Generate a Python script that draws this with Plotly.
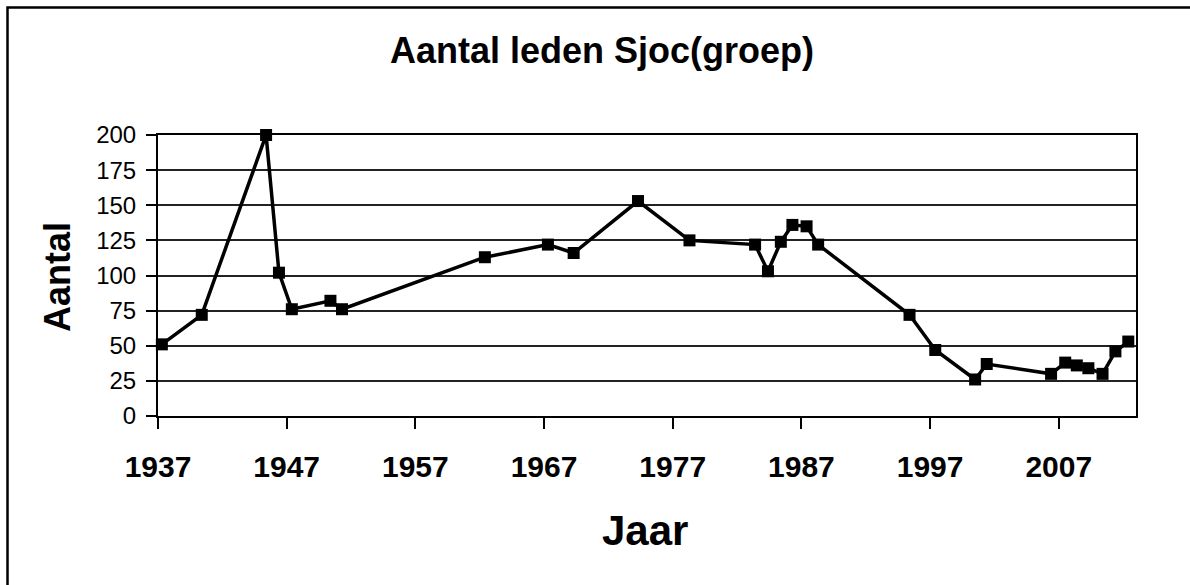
import plotly.graph_objects as go

# Data (x = year position, y = number of members)
jaar = [1937.3, 1940.4, 1945.4, 1946.4, 1947.4, 1950.4, 1951.3, 1962.4, 1967.3,
        1969.3, 1974.3, 1978.3, 1983.4, 1984.4, 1985.4, 1986.3, 1987.4, 1988.3,
        1995.4, 1997.4, 2000.5, 2001.4, 2006.4, 2007.5, 2008.4, 2009.3, 2010.4,
        2011.4, 2012.4]
aantal = [51, 72, 200, 102, 76, 82, 76, 113, 122,
          116, 153, 125, 122, 103, 124, 136, 135, 122,
          72, 47, 26, 37, 30, 38, 36, 34, 30,
          46, 53]
x_ticks = [1937, 1947, 1957, 1967, 1977, 1987, 1997, 2007]
y_ticks = [0, 25, 50, 75, 100, 125, 150, 175, 200]

W, H = 1190, 585
L, R, T, B = 158, 1136, 135, 416
pw, ph = R - L, B - T

def px(x):
    return (x - L) / pw

def py(y):
    return (B - y) / ph

FONT = "Arial, Liberation Sans, sans-serif"

fig = go.Figure()
fig.add_trace(go.Scatter(
    x=jaar, y=aantal, mode="lines+markers",
    line=dict(color="black", width=3.5),
    marker=dict(symbol="square", size=12, color="black"),
    cliponaxis=False, showlegend=False,
))

fig.update_layout(
    width=W, height=H,
    margin=dict(l=L, r=W - R, t=T, b=H - B),
    paper_bgcolor="white", plot_bgcolor="white",
    font=dict(family=FONT, color="black"),
    showlegend=False,
)
fig.update_xaxes(
    range=[1937, 2013], tickvals=x_ticks, ticktext=[str(v) for v in x_ticks],
    showgrid=False, zeroline=False,
    showline=True, linecolor="black", linewidth=2, mirror=True,
    ticks="outside", ticklen=11, tickwidth=2, tickcolor="black",
    tickfont=dict(family=FONT, size=30, color="black", weight="bold"),
    ticklabelstandoff=12,
)
fig.update_yaxes(
    range=[0, 200], tickvals=y_ticks,
    showgrid=True, gridcolor="#222", gridwidth=1.5, zeroline=False,
    showline=True, linecolor="black", linewidth=2, mirror=True,
    ticks="outside", ticklen=10, tickwidth=2, tickcolor="black",
    tickfont=dict(family=FONT, size=24, color="black"),
    ticklabelstandoff=5,
)

# Title and axis titles
fig.add_annotation(text="<b>Aantal leden Sjoc(groep)</b>", x=px(602), y=py(50),
                   xref="paper", yref="paper", showarrow=False,
                   xanchor="center", yanchor="middle",
                   font=dict(family=FONT, size=36, color="black"))
fig.add_annotation(text="<b>Aantal</b>", x=px(57), y=py(277),
                   xref="paper", yref="paper", showarrow=False, textangle=-90,
                   xanchor="center", yanchor="middle",
                   font=dict(family=FONT, size=36, color="black"))
fig.add_annotation(text="<b>Jaar</b>", x=px(645), y=py(530),
                   xref="paper", yref="paper", showarrow=False,
                   xanchor="center", yanchor="middle",
                   font=dict(family=FONT, size=42, color="black"))

# Outer chart frame (top-left visible, right/bottom beyond the canvas)
fig.add_shape(type="rect", xref="paper", yref="paper",
              x0=px(7.5), y0=py(700), x1=px(1300), y1=py(7.5),
              line=dict(color="black", width=2.5), fillcolor="rgba(0,0,0,0)",
              layer="below")

fig.write_html("out.html",
               config={"displayModeBar": False},
               post_script="document.body.style.margin='0';"
                           "document.body.style.overflow='hidden';")
